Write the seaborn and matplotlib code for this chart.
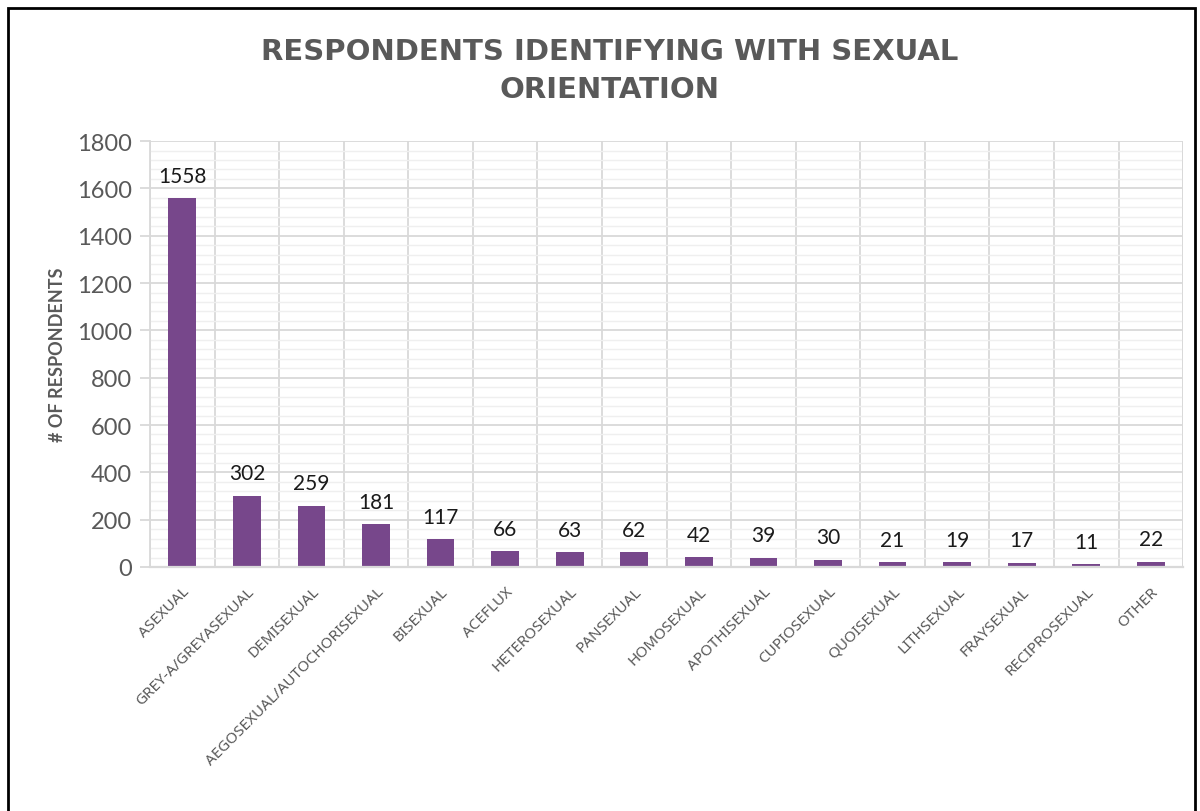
import matplotlib
matplotlib.use("Agg")
import matplotlib.pyplot as plt
import seaborn as sns
import pandas as pd
from matplotlib.ticker import MultipleLocator
from matplotlib.patches import Rectangle

categories = ["ASEXUAL", "GREY-A/GREYASEXUAL", "DEMISEXUAL", "AEGOSEXUAL/AUTOCHORISEXUAL",
              "BISEXUAL", "ACEFLUX", "HETEROSEXUAL", "PANSEXUAL", "HOMOSEXUAL",
              "APOTHISEXUAL", "CUPIOSEXUAL", "QUOISEXUAL", "LITHSEXUAL", "FRAYSEXUAL",
              "RECIPROSEXUAL", "OTHER"]
counts = [1558, 302, 259, 181, 117, 66, 63, 62, 42, 39, 30, 21, 19, 17, 11, 22]

title = "RESPONDENTS IDENTIFYING WITH SEXUAL\nORIENTATION"
ylabel = "# OF RESPONDENTS"

df = pd.DataFrame({"cat": categories, "n": counts})

sns.set_theme(style="white")
plt.rcParams["font.family"] = ["Lato", "DejaVu Sans"]

fig = plt.figure(figsize=(12, 8.12), dpi=100)
ax = fig.add_axes([0.125, 0.3005, 0.861, 0.5245])

bar_color = "#77478B"
sns.barplot(data=df, x="cat", y="n", color=bar_color, width=0.43, ax=ax,
            saturation=1, edgecolor="none")

ax.set_ylim(0, 1800)
ax.set_xlim(-0.5, len(categories) - 0.5)
ax.yaxis.set_major_locator(MultipleLocator(200))
ax.yaxis.set_minor_locator(MultipleLocator(40))
ax.xaxis.set_minor_locator(MultipleLocator(1, offset=0.5))
ax.grid(which="major", axis="y", color="#D9D9D9", lw=1.3)
ax.grid(which="minor", axis="y", color="#EFEFEF", lw=1.0)
ax.grid(which="minor", axis="x", color="#D9D9D9", lw=1.3)
ax.set_axisbelow(True)
for s in ["top", "right"]:
    ax.spines[s].set_visible(False)
ax.spines["left"].set_color("#D9D9D9")
ax.spines["left"].set_linewidth(1.3)
ax.spines["bottom"].set_color("#D9D9D9")
ax.spines["bottom"].set_linewidth(1.6)
ax.axvline(len(categories) - 0.5, color="#D9D9D9", lw=1.3)

ax.tick_params(axis="y", which="major", length=7, color="#D9D9D9", width=1.3,
               labelsize=17, labelcolor="#595959", pad=6, left=True)
ax.tick_params(axis="y", which="minor", length=0)
ax.tick_params(axis="x", which="both", length=0, pad=12)

ax.set_xticks(range(len(categories)))
ax.set_xticklabels(categories, rotation=45, ha="right", rotation_mode="anchor",
                   fontsize=11, color="#595959", family=["Noto Sans"])
ax.set_xlabel("")
ax.set_ylabel(ylabel, fontsize=13, fontweight="bold", color="#595959", labelpad=8)

for i, v in enumerate(counts):
    ax.annotate(str(v), (i, v), xytext=(0, 9), textcoords="offset points",
                ha="center", va="bottom", fontsize=15, color="#1A1A1A")

fig.text(0.508, 0.913, title, ha="center", va="center", fontsize=21,
         fontweight="bold", color="#595959", linespacing=1.45,
         family=["DejaVu Sans"])

fig.patches.append(Rectangle((0.007, -0.01), 0.989, 0.999, transform=fig.transFigure,
                             fill=False, edgecolor="black", lw=2))

fig.savefig("out.png", dpi=100)
